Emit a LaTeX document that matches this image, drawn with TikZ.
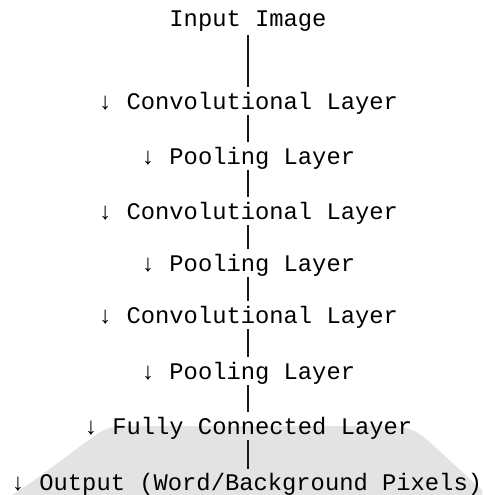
\documentclass[tikz,border=0pt]{standalone}
\usepackage{fontspec}
\setmonofont{Liberation Mono}
\usetikzlibrary{calc}
\tikzset{
  layer/.style={anchor=base, inner sep=0pt, font=\ttfamily\fontsize{23.8}{28}\selectfont},
  link/.style={line width=2pt, black!90},
  smudge/.style={fill=black!11, draw=none}
}
\begin{document}
\begin{tikzpicture}[x=1pt,y=-1pt]
\useasboundingbox (0,0) rectangle (482,495);
\fill[white] (0,0) rectangle (482,495);
% faint grey background mound at the bottom
\path[smudge] (12,495) .. controls (40,478) and (80,445) .. (102,431)
  .. controls (110,427) and (118,426) .. (130,426) -- (390,426)
  .. controls (405,426) and (415,430) .. (425,438)
  .. controls (450,460) and (470,480) .. (482,490) -- (482,495) -- cycle;
\def\cx{248}
\node[layer] (in) at (\cx,27) {Input Image};
\node[layer] (c1) at (\cx,109.5) {↓ Convolutional Layer};
\node[layer] (p1) at (\cx,164.5) {↓ Pooling Layer};
\node[layer] (c2) at (\cx,219.5) {↓ Convolutional Layer};
\node[layer] (p2) at (\cx,271.5) {↓ Pooling Layer};
\node[layer] (c3) at (\cx,323.5) {↓ Convolutional Layer};
\node[layer] (p3) at (\cx,379.5) {↓ Pooling Layer};
\node[layer] (fc) at (\cx,434.5) {↓ Fully Connected Layer};
\node[layer] (out) at (246.5,490) {↓ Output (Word/Background Pixels)};
\draw[link] ($(in.base)+(0,8)$) -- ($(c1.base)+(0,-22.5)$);
\draw[link] ($(c1.base)+(0,5.5)$) -- ($(p1.base)+(0,-22.5)$);
\draw[link] ($(p1.base)+(0,5.5)$) -- ($(c2.base)+(0,-22.5)$);
\draw[link] ($(c2.base)+(0,5.5)$) -- ($(p2.base)+(0,-22.5)$);
\draw[link] ($(p2.base)+(0,5.5)$) -- ($(c3.base)+(0,-22.5)$);
\draw[link] ($(c3.base)+(0,5.5)$) -- ($(p3.base)+(0,-22.5)$);
\draw[link] ($(p3.base)+(0,5.5)$) -- ($(fc.base)+(0,-22.5)$);
\draw[link] ($(fc.base)+(0,5.5)$) -- (fc.base |- {$(out.base)+(0,-21)$});
\end{tikzpicture}
\end{document}
